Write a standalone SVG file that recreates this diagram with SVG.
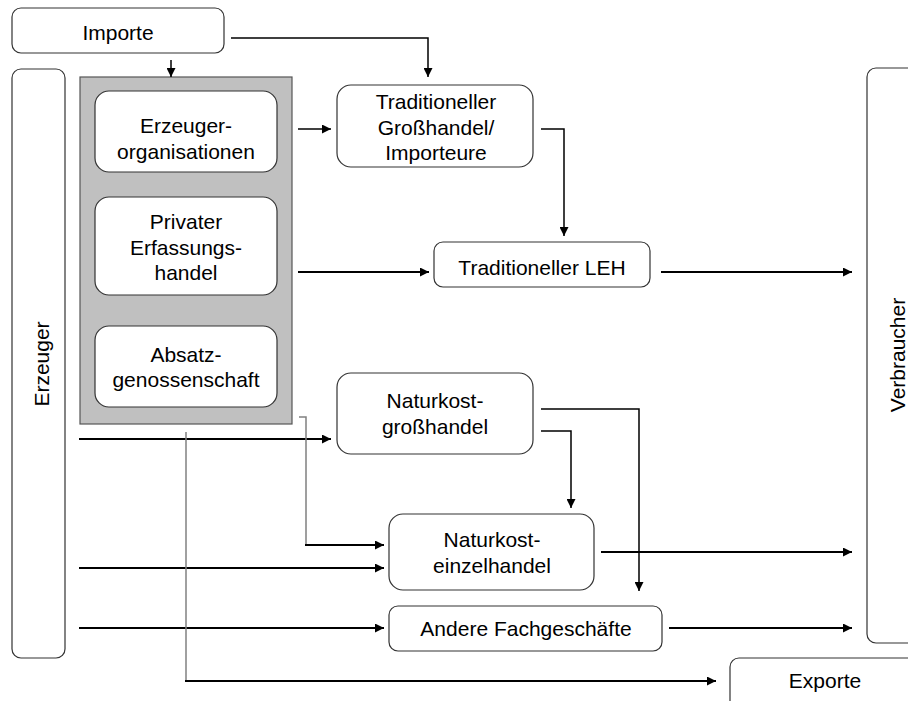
<svg xmlns="http://www.w3.org/2000/svg" width="908" height="701" viewBox="0 0 908 701">
<style>
.box{fill:#fff;stroke:#333;stroke-width:1.2}
.t{font-family:"Liberation Sans",Arial,sans-serif;font-size:21px;fill:#000;text-anchor:middle}
.c{fill:none;stroke:#000;stroke-width:1.5}
.cb{fill:none;stroke:#000;stroke-width:2.2}
.g{fill:none;stroke:#808080;stroke-width:1.5}
</style>
<defs>
<marker id="ah" viewBox="0 0 10 10" refX="10" refY="5" markerWidth="10" markerHeight="9" markerUnits="userSpaceOnUse" orient="auto">
<path d="M0,0 L10,5 L0,10 Z" fill="#000"/>
</marker>
</defs>
<rect width="908" height="701" fill="#fff"/>

<g id="importe"><rect class="box" x="12" y="8" width="212" height="45" rx="9"/><text class="t" x="118" y="40">Importe</text></g>
<g id="erzeuger"><rect class="box" x="12" y="69" width="53" height="589" rx="9"/><text class="t" transform="translate(49,364) rotate(-90)">Erzeuger</text></g>
<g id="verbraucher"><rect class="box" x="867" y="68" width="60" height="575" rx="9"/><text class="t" transform="translate(905,355) rotate(-90)">Verbraucher</text></g>
<g id="exporte"><rect class="box" x="730" y="658" width="200" height="60" rx="9"/><text class="t" x="825" y="688">Exporte</text></g>

<g id="gruppe"><rect x="80" y="77" width="212" height="347" fill="#c0c0c0" stroke="#555" stroke-width="1.2"/></g>
<g id="erzeugerorganisationen"><rect class="box" x="95" y="91" width="182" height="81" rx="14"/><text class="t" x="186" y="133">Erzeuger-</text><text class="t" x="186" y="159">organisationen</text></g>
<g id="privater"><rect class="box" x="95" y="197" width="182" height="98" rx="14"/><text class="t" x="186" y="229">Privater</text><text class="t" x="186" y="255">Erfassungs-</text><text class="t" x="186" y="280">handel</text></g>
<g id="absatz"><rect class="box" x="95" y="326" width="182" height="81" rx="14"/><text class="t" x="186" y="362">Absatz-</text><text class="t" x="186" y="387">genossenschaft</text></g>

<g id="grosshandel"><rect class="box" x="337" y="85" width="196" height="82" rx="14"/><text class="t" x="436" y="109">Traditioneller</text><text class="t" x="436" y="135">Großhandel/</text><text class="t" x="436" y="160">Importeure</text></g>
<g id="leh"><rect class="box" x="434" y="242" width="216" height="45" rx="9"/><text class="t" x="542" y="275">Traditioneller LEH</text></g>
<g id="nk-gross"><rect class="box" x="337" y="373" width="196" height="81" rx="14"/><text class="t" x="435" y="408">Naturkost-</text><text class="t" x="435" y="434">großhandel</text></g>
<g id="nk-einzel"><rect class="box" x="389" y="514" width="205" height="76" rx="14"/><text class="t" x="492" y="547">Naturkost-</text><text class="t" x="492" y="573">einzelhandel</text></g>
<g id="andere"><rect class="box" x="389" y="606" width="273" height="45" rx="9"/><text class="t" x="526" y="636">Andere Fachgeschäfte</text></g>

<g id="connectors">
<path class="c" d="M231,38 H428 V77" marker-end="url(#ah)"/>
<path class="c" d="M171,60 V77" marker-end="url(#ah)"/>
<path class="c" d="M298,129 H331" marker-end="url(#ah)"/>
<path class="c" d="M541,129 H564 V236" marker-end="url(#ah)"/>
<path class="cb" d="M298,272 H429" marker-end="url(#ah)"/>
<path class="cb" d="M661,272 H852" marker-end="url(#ah)"/>
<path class="cb" d="M79,439 H331" marker-end="url(#ah)"/>
<path class="cb" d="M79,568 H384" marker-end="url(#ah)"/>
<path class="cb" d="M79,628 H384" marker-end="url(#ah)"/>
<path class="g" d="M299,417 H306 V545"/>
<path class="cb" d="M305,545 H384" marker-end="url(#ah)"/>
<path class="g" d="M186,432 V681"/>
<path class="cb" d="M185,681 H716" marker-end="url(#ah)"/>
<path class="c" d="M541,409 H639 V591" marker-end="url(#ah)"/>
<path class="c" d="M541,431 H571 V508" marker-end="url(#ah)"/>
<path class="cb" d="M601,552 H852" marker-end="url(#ah)"/>
<path class="cb" d="M669,628 H852" marker-end="url(#ah)"/>
</g>
</svg>
